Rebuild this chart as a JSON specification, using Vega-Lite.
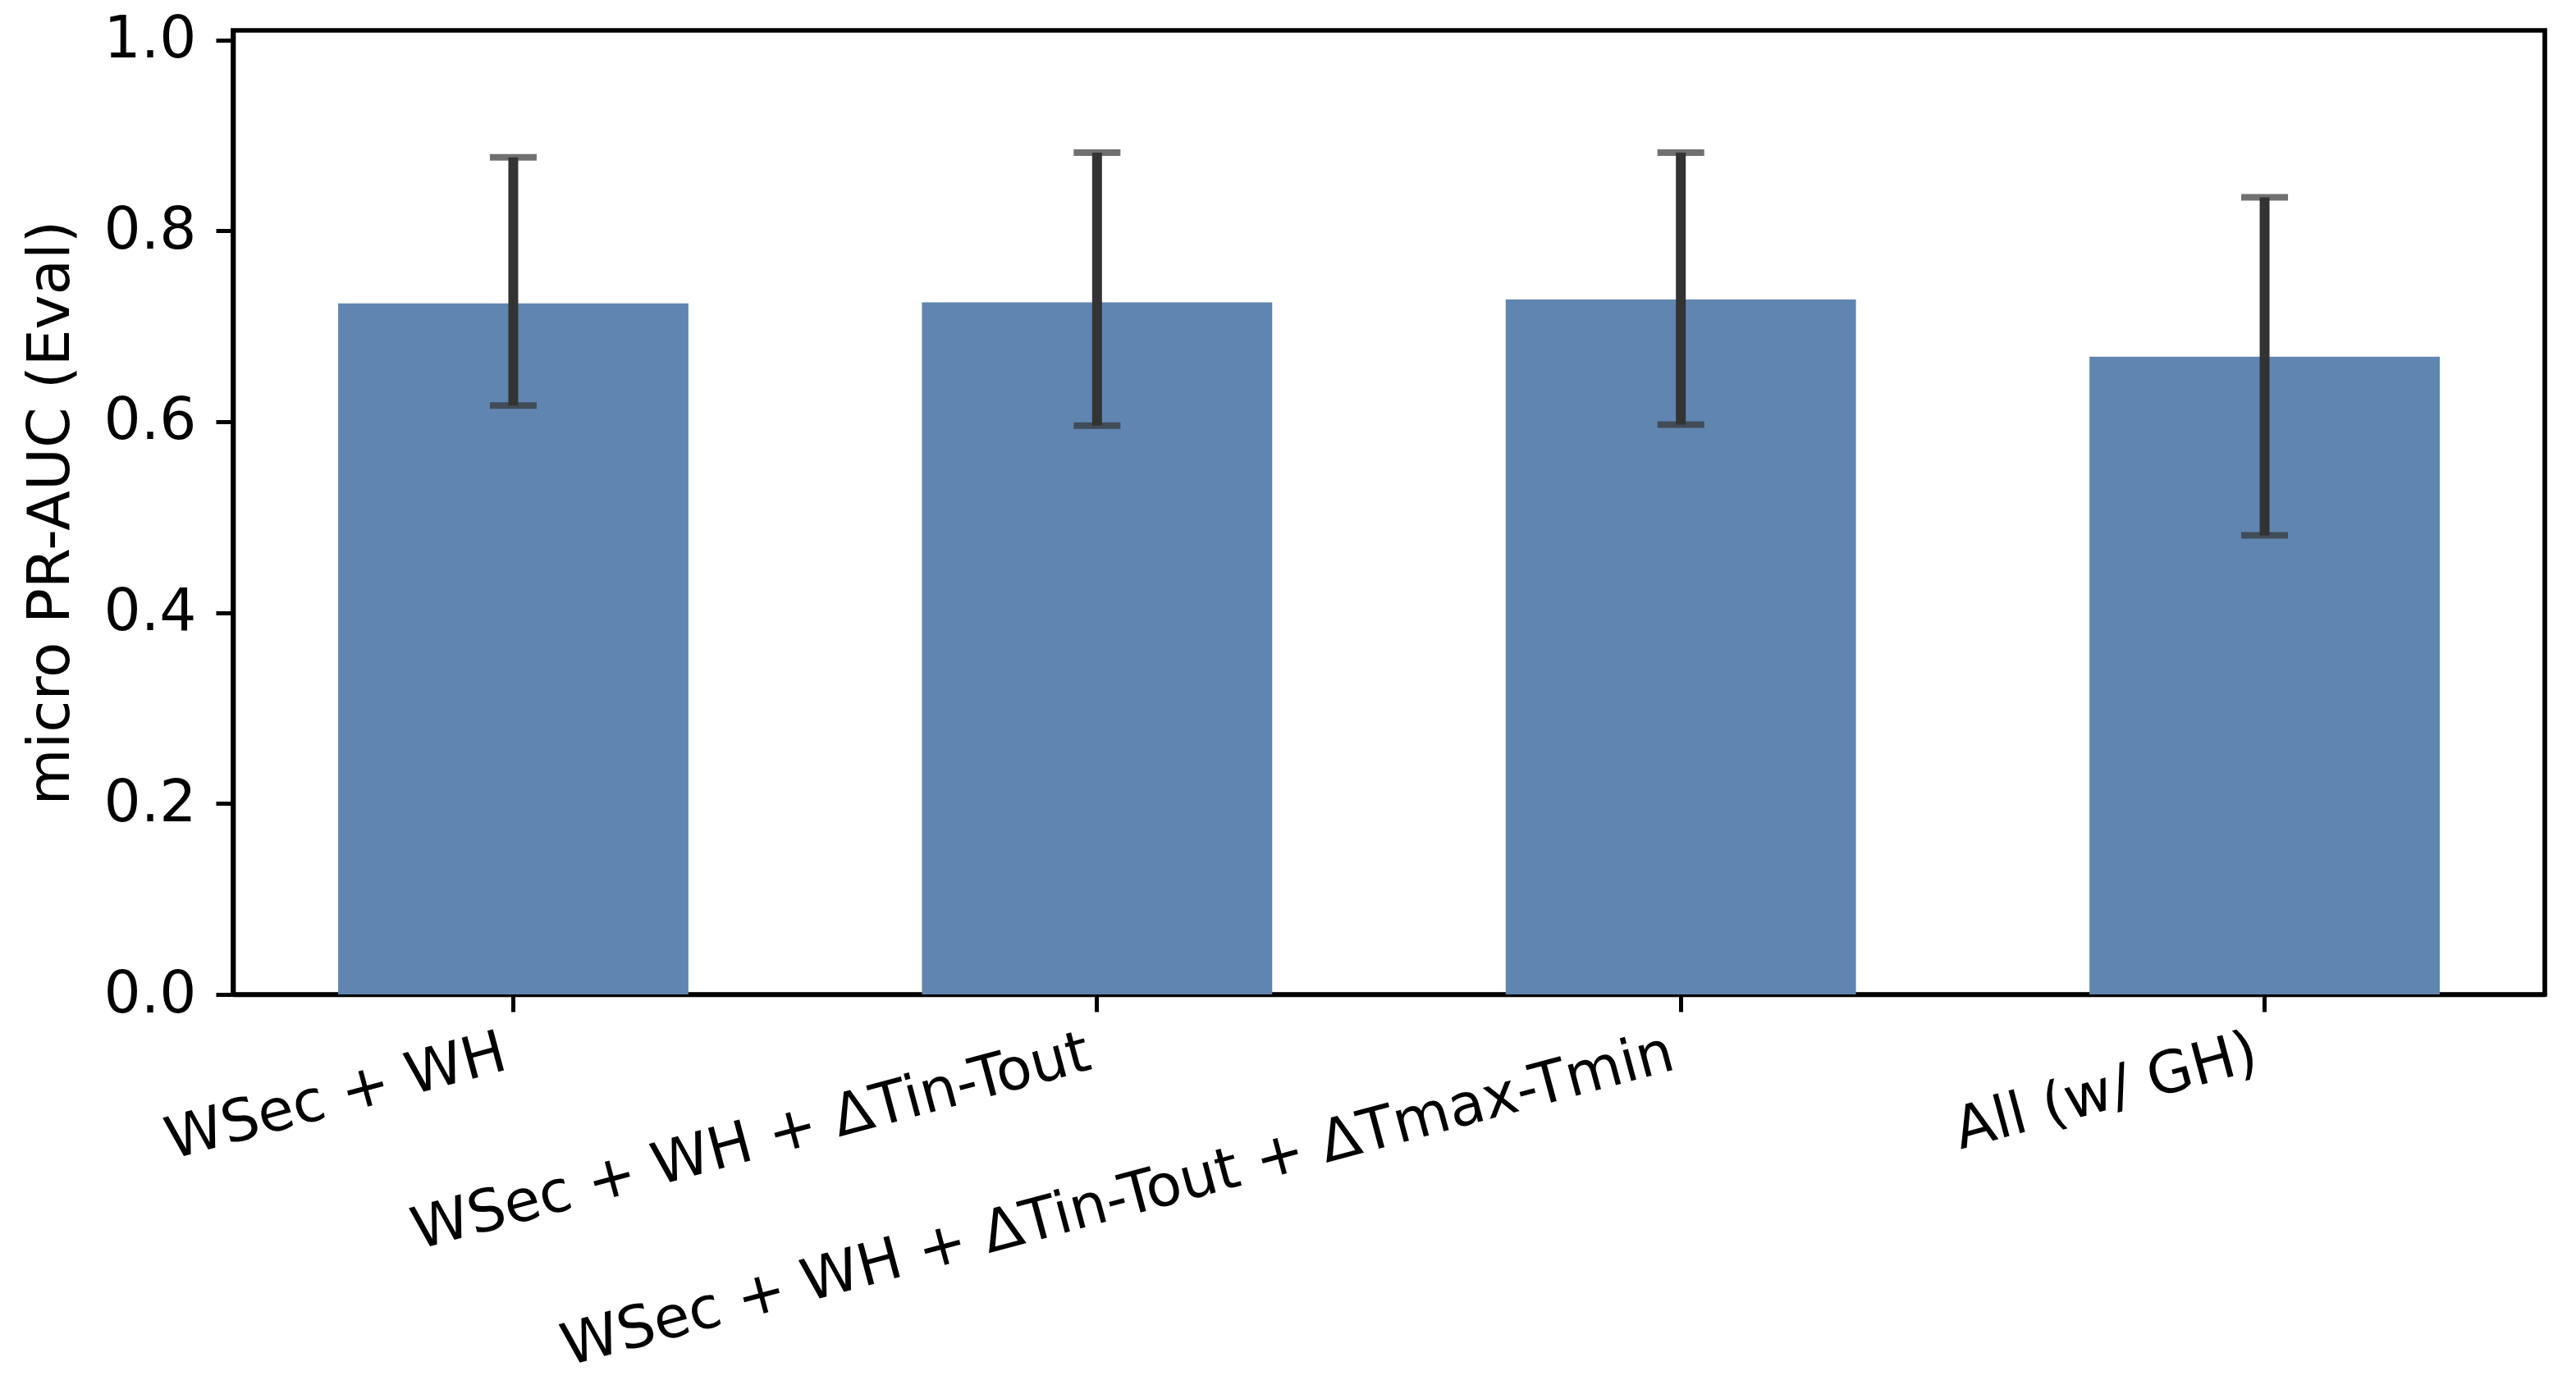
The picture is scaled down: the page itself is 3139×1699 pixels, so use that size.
{
  "$schema": "https://vega.github.io/schema/vega-lite/v6.json",
  "autosize": {"type": "none"},
  "padding": {"left": 284, "top": 37, "right": 38, "bottom": 487},
  "width": 2817,
  "height": 1175,
  "background": "white",
  "config": {
    "view": {"stroke": "black", "strokeWidth": 5.7},
    "font": "DejaVu Sans",
    "axis": {
      "labelFont": "DejaVu Sans",
      "titleFont": "DejaVu Sans",
      "labelFontSize": 71,
      "titleFontSize": 71,
      "labelColor": "black",
      "titleColor": "black",
      "titleFontWeight": "normal",
      "domainColor": "black",
      "domainWidth": 5.7,
      "tickColor": "black",
      "tickWidth": 5,
      "tickSize": 21,
      "grid": false
    }
  },
  "data": {
    "values": [
      {"model": "WSec + WH", "mean": 0.724, "lo": 0.617, "hi": 0.877},
      {"model": "WSec + WH + ΔTin-Tout", "mean": 0.725, "lo": 0.596, "hi": 0.882},
      {"model": "WSec + WH + ΔTin-Tout + ΔTmax-Tmin", "mean": 0.728, "lo": 0.597, "hi": 0.882},
      {"model": "All (w/ GH)", "mean": 0.668, "lo": 0.481, "hi": 0.835}
    ]
  },
  "encoding": {
    "x": {
      "field": "model",
      "type": "nominal",
      "sort": null,
      "scale": {"paddingInner": 0.4, "paddingOuter": 0.18},
      "axis": {
        "title": null,
        "labelAngle": -15,
        "labelAlign": "right",
        "labelBaseline": "top",
        "labelOffset": -19,
        "labelPadding": 15,
        "labelLimit": 3000,
        "labelOverlap": false,
        "labelFlush": false
      }
    }
  },
  "layer": [
    {
      "mark": {"type": "bar", "color": "#6085B0"},
      "encoding": {
        "y": {
          "field": "mean",
          "type": "quantitative",
          "scale": {"domain": [0, 1.01], "nice": false, "zero": true},
          "axis": {
            "title": "micro PR-AUC (Eval)",
            "values": [0, 0.2, 0.4, 0.6, 0.8, 1.0],
            "format": ".1f",
            "labelPadding": 24,
            "titlePadding": 43,
            "titleBaseline": "alphabetic"
          }
        }
      }
    },
    {
      "mark": {"type": "rule", "color": "#333333", "strokeWidth": 12},
      "encoding": {
        "y": {"field": "lo", "type": "quantitative"},
        "y2": {"field": "hi"}
      }
    },
    {
      "mark": {"type": "tick", "color": "#333333", "size": 57, "thickness": 8, "orient": "horizontal"},
      "encoding": {"y": {"field": "lo", "type": "quantitative"}}
    },
    {
      "mark": {"type": "tick", "color": "#333333", "size": 57, "thickness": 8, "orient": "horizontal"},
      "encoding": {"y": {"field": "hi", "type": "quantitative"}}
    }
  ]
}
